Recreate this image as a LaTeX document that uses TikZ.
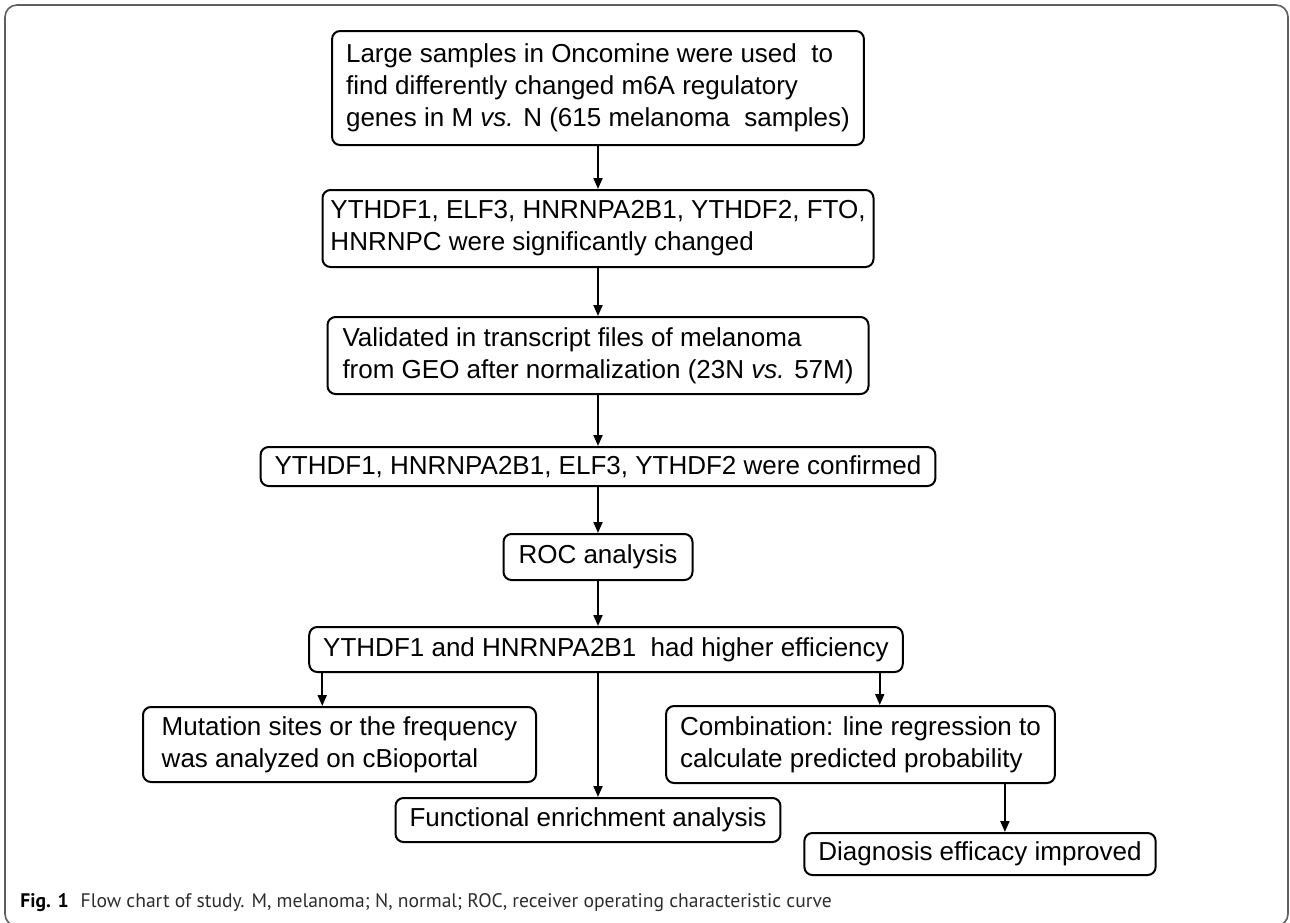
\documentclass[tikz,border=0pt]{standalone}
\usepackage{fontspec}
\setmainfont{Liberation Sans}
\newfontfamily\captionfont{PT Sans}
\usepackage{tikz}
\usetikzlibrary{positioning, arrows.meta}

\definecolor{framegray}{RGB}{95,95,95}
\definecolor{captiongray}{RGB}{45,45,45}

\begin{document}
\begin{tikzpicture}[
  x=0.5pt, y=-0.5pt,
  every node/.style={font=\fontsize{13}{16}\selectfont},
  stepbox/.style={rectangle, draw, line width=1pt, rounded corners=4pt, inner xsep=7pt, inner ysep=2pt, align=left},
  arrow/.style={-{Triangle[length=5.5pt, width=4.5pt]}, line width=1pt}
]
\useasboundingbox (0,0) rectangle (1290,922);

% Outer frame
\draw[framegray, line width=0.8pt, rounded corners=6pt] (5,5) rectangle (1288,926);

% Main steps
\node[stepbox, minimum width=263.5pt, minimum height=57pt] (oncomine) at (598,88)
  {Large samples in Oncomine were used~~to\\find differently changed m6A regulatory\\genes in M \textit{vs.} N (615 melanoma~~samples)};
\node[stepbox, below=21.5pt of oncomine, minimum width=275.5pt, minimum height=38.5pt, inner xsep=3pt] (changed)
  {YTHDF1, ELF3, HNRNPA2B1, YTHDF2, FTO,\\HNRNPC were significantly changed};
\node[stepbox, below=24pt of changed, minimum width=270.5pt, minimum height=38.5pt] (validated)
  {Validated in transcript files of melanoma\\from GEO after normalization (23N \textit{vs.} 57M)};
\node[stepbox, below=25.5pt of validated, minimum width=336.5pt, minimum height=19.5pt] (confirmed)
  {YTHDF1, HNRNPA2B1, ELF3, YTHDF2 were confirmed};
\node[stepbox, below=23pt of confirmed, minimum width=94.5pt, minimum height=23pt] (roc) {ROC analysis};
\node[stepbox, below=22.5pt of roc, xshift=4pt, minimum width=294.5pt, minimum height=22.5pt] (efficiency)
  {YTHDF1 and HNRNPA2B1~~had higher efficiency};

% Branches
\node[stepbox, minimum width=196.5pt, minimum height=37.5pt] (mutation) at (339.5,744.5)
  {Mutation sites or the frequency\\was analyzed on cBioportal};
\node[stepbox, minimum width=189pt, minimum height=22pt] (enrichment) at (588,820)
  {Functional enrichment analysis};
\node[stepbox, minimum width=193.5pt, minimum height=38.5pt] (combination) at (860.5,744.5)
  {Combination: line regression to\\calculate predicted probability};
\node[stepbox, minimum width=173pt, minimum height=21pt] (diagnosis) at (980,854)
  {Diagnosis efficacy improved};

% Pointers
\draw[arrow] (oncomine) -- (changed);
\draw[arrow] (changed) -- (validated);
\draw[arrow] (validated) -- (confirmed);
\draw[arrow] (confirmed) -- (roc);
\draw[arrow] (roc.south) -- (roc.south |- efficiency.north);
\draw[arrow] ([xshift=7pt]efficiency.south west) -- ([xshift=7pt]efficiency.south west |- mutation.north);
\draw[arrow] (roc.south |- efficiency.south) -- (roc.south |- enrichment.north);
\draw[arrow] ([xshift=-12pt]efficiency.south east) -- ([xshift=-12pt]efficiency.south east |- combination.north);
\draw[arrow] ([xshift=-25.5pt]combination.south east) -- ([xshift=-25.5pt]combination.south east |- diagnosis.north);

% Caption
\node[anchor=base west, inner sep=0pt, text=captiongray, font=\captionfont\fontsize{9.8}{12}\selectfont] (caption) at (20,907)
  {\textcolor{black}{\textbf{Fig. 1}}\hspace{6pt}Flow chart of study. M, melanoma; N, normal; ROC, receiver operating characteristic curve};

\end{tikzpicture}
\end{document}
